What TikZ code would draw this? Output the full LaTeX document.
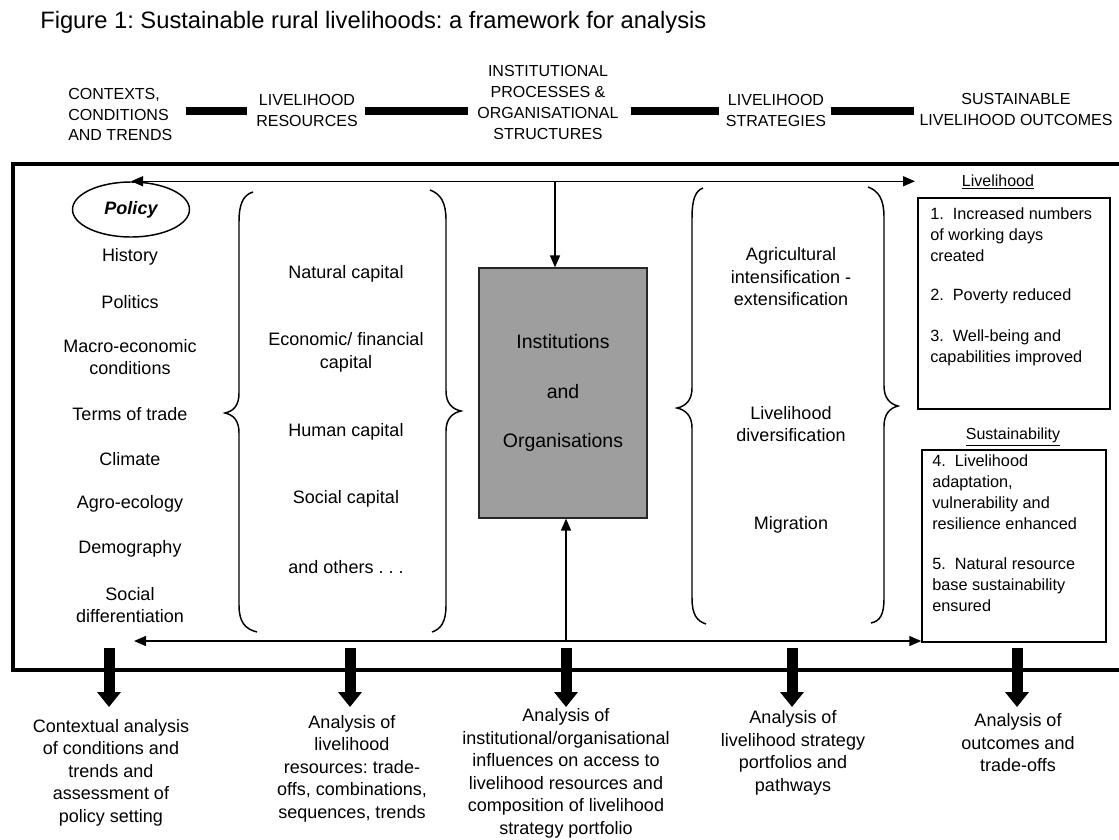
\documentclass[tikz,border=0pt]{standalone}
\usepackage{fontspec}
\setmainfont{Liberation Sans}
\usetikzlibrary{arrows.meta,shapes.geometric}
\newdimen\pxu \pxu=0.75pt
\frenchspacing
\begin{document}
\begin{tikzpicture}[x=0.75pt,y=-0.75pt,
  body/.style={inner sep=0pt, align=center, font=\fontsize{13.5}{16.9}\selectfont},
  head/.style={inner sep=0pt, align=center, font=\fontsize{12}{15.6}\selectfont},
  otxt/.style={inner sep=0pt, align=left, anchor=west, font=\fontsize{12.2}{15.8}\selectfont},
  hbar/.style={line width=6pt},
  frame/.style={line width=2.3pt},
  thinline/.style={line width=1.1pt},
  brace/.style={line width=1.1pt},
  sarrow/.style={thinline, {Triangle[length=9pt,width=7.5pt]}-{Triangle[length=9pt,width=7.5pt]}},
  uarrow/.style={thinline, -{Triangle[length=9pt,width=7.5pt]}},
  bigarrow/.style={line width=8.25pt, -{Triangle[length=11.25pt,width=17.25pt]}},
  obox/.style={draw, thinline, inner sep=0pt},
  ]
\fill[white] (0,0) rectangle (1119,839);
\useasboundingbox (0,0) rectangle (1119,839);

% title
\node[anchor=west, inner sep=0pt, font=\fontsize{17.8}{20}\selectfont] (title) at (40,22) {Figure 1: Sustainable rural livelihoods: a framework for analysis};

% headers
\node[head, anchor=west, align=left] (h1) at (68,114.5) {CONTEXTS,\\CONDITIONS\\AND TRENDS};
\node[head] (h2) at (307,110.5) {LIVELIHOOD\\RESOURCES};
\node[head] (h3) at (548,102.5) {INSTITUTIONAL\\PROCESSES \&\\ORGANISATIONAL\\STRUCTURES};
\node[head] (h4) at (776,110.5) {LIVELIHOOD\\STRATEGIES};
\node[head] (h5) at (1016,109.5) {SUSTAINABLE\\LIVELIHOOD OUTCOMES};

\draw[hbar, shorten <=13\pxu, shorten >=9\pxu] (h1.east |- h2.west) -- (h2.west);
\draw[hbar, shorten <=7\pxu, shorten >=9\pxu] (h2.east) -- (h2.east -| h3.west);
\draw[hbar, shorten <=12\pxu, shorten >=7\pxu] (h3.east |- h4.west) -- (h4.west);
\draw[hbar, shorten <=5\pxu, shorten >=5\pxu] (h4.east) -- (h4.east -| h5.west);

% main frame
\draw[frame] (1119,164) -- (13,164) -- (13,670) -- (1119,670);

% left column
\node[draw, ellipse, thinline, minimum width=117\pxu, minimum height=55\pxu, inner sep=0pt,
      font=\fontsize{13.5}{16}\selectfont\bfseries\itshape] (policy) at (131,209.5) {Policy};
\node[body] (c1) at (130,257) {History};
\node[body] (c2) at (130,302) {Politics};
\node[body] (c3) at (130,357) {Macro-economic\\conditions};
\node[body] (c4) at (130,414) {Terms of trade};
\node[body] (c5) at (130,459) {Climate};
\node[body] (c6) at (130,504) {Agro-ecology};
\node[body] (c7) at (130,549) {Demography};
\node[body] (c8) at (130,605) {Social\\differentiation};

% resources
\node[body] (r1) at (346,274) {Natural capital};
\node[body] (r2) at (346,352.5) {Economic/ financial\\capital};
\node[body] (r3) at (346,432) {Human capital};
\node[body] (r4) at (346,499) {Social capital};
\node[body] (r5) at (346,567) {and others . . .};

\draw[brace] (253,192) .. controls (243,195) and (239,204) .. (239,222) -- (239,393) .. controls (239,405) and (234,411) .. (225,413) .. controls (234,415) and (239,421) .. (239,433) -- (239,605) .. controls (239,622) and (245,629) .. (257,632);
\draw[brace] (430,190) .. controls (441,194) and (446,203) .. (446,220) -- (446,391) .. controls (446,403) and (452,409) .. (461,411) .. controls (452,413) and (446,419) .. (446,431) -- (446,605) .. controls (446,622) and (441,629) .. (432,632);

% institutions
\node[draw=black!85, line width=0.9pt, fill=black!38, minimum width=168\pxu, minimum height=250\pxu,
      inner sep=0pt, align=center, font=\fontsize{14.6}{37.2}\selectfont] (inst) at (563,393) {Institutions\\and\\Organisations};

% strategies
\node[body] (s1) at (791,277) {Agricultural\\intensification -\\extensification};
\node[body] (s2) at (791,424) {Livelihood\\diversification};
\node[body] (s3) at (791,525) {Migration};

\draw[brace] (703,188) .. controls (695,191) and (692,200) .. (692,218) -- (692,388) .. controls (692,400) and (686,406) .. (677,408) .. controls (686,410) and (692,416) .. (692,428) -- (692,598) .. controls (692,615) and (697,621) .. (706,624);
\draw[brace] (868,187) .. controls (879,191) and (884,200) .. (884,217) -- (884,386) .. controls (884,398) and (890,404) .. (898,406) .. controls (890,408) and (884,414) .. (884,426) -- (884,598) .. controls (884,615) and (880,621) .. (871,623);

% outcomes
\node[inner sep=0pt, font=\fontsize{12}{14}\selectfont] (livt) at (998,182) {\underline{Livelihood}};
\node[obox, minimum width=192\pxu, minimum height=211\pxu] (box1) at (1014,303.5) {};
\node[otxt] (o1) at (930,234.5) {1.\ \ Increased numbers\\of working days\\created};
\node[otxt] (o2) at (930,296) {2.\ \ Poverty reduced};
\node[otxt] (o3) at (930,347.5) {3.\ \ Well-being and\\capabilities improved};

\node[inner sep=0pt, font=\fontsize{12}{14}\selectfont] (sust) at (1013,437) {\underline{Sustainability}};
\node[obox, minimum width=184\pxu, minimum height=192\pxu] (box2) at (1014,546) {};
\node[otxt] (o4) at (932,492.5) {4.\ \ Livelihood\\adaptation,\\vulnerability and\\resilience enhanced};
\node[otxt] (o5) at (932,585) {5.\ \ Natural resource\\base sustainability\\ensured};

% connectors inside frame
\coordinate (tr) at (915,180);
\draw[sarrow] (policy.north) -- (policy.north -| tr);
\coordinate (tj) at (555,182);
\draw[uarrow] (tj) -- (tj |- inst.north);
\coordinate (bl) at (134,641);
\draw[sarrow] (bl) -- (bl -| box2.west);
\coordinate (bu) at (566,641);
\draw[uarrow] (bu) -- (bu |- inst.south);

% bottom analysis
\node[body] (t1) at (111,772.5) {Contextual analysis\\of conditions and\\trends and\\assessment of\\policy setting};
\node[body] (t2) at (352,768.5) {Analysis of\\livelihood\\resources: trade-\\offs, combinations,\\sequences, trends};
\node[body] (t3) at (566,773.5) {Analysis of\\institutional/organisational\\influences on access to\\livelihood resources and\\composition of livelihood\\strategy portfolio};
\node[body] (t4) at (793,753) {Analysis of\\livelihood strategy\\portfolios and\\pathways};
\node[body] (t5) at (1018,743) {Analysis of\\outcomes and\\trade-offs};

\coordinate (a1) at (109,648); \coordinate (b1) at (109,707);
\coordinate (a2) at (350,648); \coordinate (b2) at (350,707);
\coordinate (a3) at (566,648); \coordinate (b3) at (566,707);
\coordinate (a4) at (792,648); \coordinate (b4) at (792,707);
\coordinate (a5) at (1017,648); \coordinate (b5) at (1017,707);
\draw[bigarrow] (a1) -- (b1);
\draw[bigarrow] (a2) -- (b2);
\draw[bigarrow] (a3) -- (b3);
\draw[bigarrow] (a4) -- (b4);
\draw[bigarrow] (a5) -- (b5);
\end{tikzpicture}
\end{document}
